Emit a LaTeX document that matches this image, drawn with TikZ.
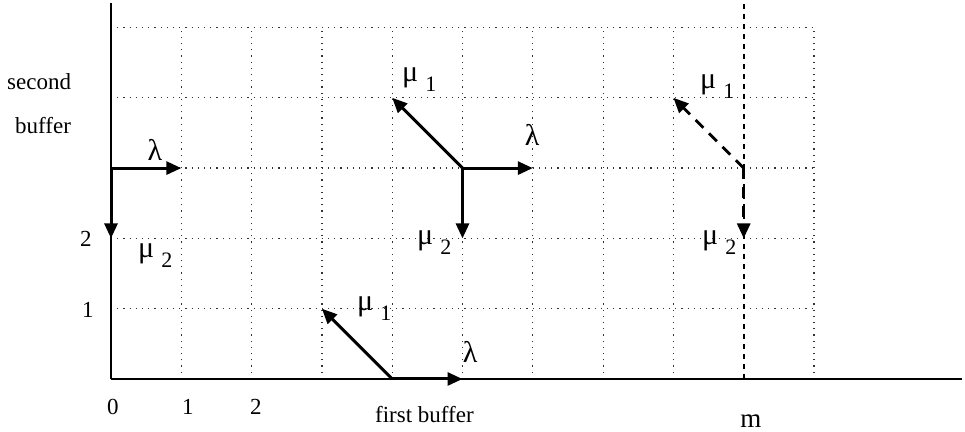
\documentclass[tikz,border=0pt]{standalone}
\usepackage{fontspec}
\setmainfont{Liberation Serif}
\usetikzlibrary{arrows.meta}

\tikzset{
  gridline/.style={black!80, line width=1.2pt, dash pattern=on 1.2pt off 5pt},
  axis/.style={black, line width=2pt},
  limitline/.style={black, line width=2.2pt, dash pattern=on 5pt off 5pt},
  move/.style={black, line width=3pt, -{Triangle[length=15pt,width=13pt]}},
  dmove/.style={move, dash pattern=on 11pt off 8pt},
  txt/.style={inner sep=0pt, font=\fontsize{23}{26}\selectfont},
  greek/.style={inner sep=0pt, font=\fontsize{30}{32}\selectfont},
  rate/.style={greek, anchor=base west},
}
\newcommand{\ratelabel}[1]{μ\hspace{7pt}\raisebox{-10pt}{\fontsize{22}{23}\selectfont #1}}

\begin{document}
\begin{tikzpicture}[x=70.3pt,y=70.3pt]
  \useasboundingbox (-1.579,-0.740) rectangle (12.148,5.391);

  % dotted state grid
  \foreach \i in {1,...,8,10}
    \draw[gridline] (\i,0) -- (\i,5);
  \foreach \j in {1,...,5}
    \draw[gridline] (0,\j) -- (10,\j);

  % capacity limit of the first buffer
  \draw[limitline] (9,0) -- (9,5.391);

  % axes
  \coordinate (O) at (0,0);
  \coordinate (xend) at (12.1,0);
  \coordinate (yend) at (0,5.35);
  \draw[axis] (O) -- (xend);
  \draw[axis] (O) -- (yend);

  % states and their neighbours
  \coordinate (a) at (0,3);  \coordinate (aR) at (1,3);  \coordinate (aD) at (0,2);
  \coordinate (b) at (4,0);  \coordinate (bR) at (5,0);  \coordinate (bL) at (3,1);
  \coordinate (c) at (5,3);  \coordinate (cR) at (6,3);  \coordinate (cD) at (5,2);  \coordinate (cL) at (4,4);
  \coordinate (d) at (9,3);  \coordinate (dD) at (9,2);  \coordinate (dL) at (8,4);

  % transitions
  \draw[move] (a) -- (aR);
  \draw[move] (a) -- (aD);
  \draw[move] (b) -- (bR);
  \draw[move] (b) -- (bL);
  \draw[move] (c) -- (cR);
  \draw[move] (c) -- (cD);
  \draw[move] (c) -- (cL);
  \draw[dmove] (d) -- (dL);
  \draw[dmove] (d) -- (dD);

  % rate labels
  \node[greek] (la) at (0.626,3.257) {λ};
  \node[greek] (lb) at (5.107,0.384) {λ};
  \node[greek] (lc) at (5.989,3.471) {λ};
  \node[rate] (ma) at (0.384,1.735) {\ratelabel{2}};
  \node[rate] (mb) at (3.499,0.981) {\ratelabel{1}};
  \node[rate] (mc1) at (4.139,4.225) {\ratelabel{1}};
  \node[rate] (mc2) at (4.353,1.906) {\ratelabel{2}};
  \node[rate] (md1) at (8.378,4.139) {\ratelabel{1}};
  \node[rate] (md2) at (8.407,1.906) {\ratelabel{2}};

  % axis labels
  \node[txt, anchor=base west] (sec) at (-1.479,4.111) {second};
  \node[txt, anchor=base west] (buf) at (-1.366,3.499) {buffer};
  \node[txt, anchor=base west] (fb) at (3.755,-0.612) {first buffer};
  \node[txt, anchor=base west, font=\fontsize{27}{28}\selectfont] (m) at (8.948,-0.683) {m};
  \node[txt, anchor=base west] (x0) at (-0.057,-0.512) {0};
  \node[txt, anchor=base west] (x1) at (1.01,-0.512) {1};
  \node[txt, anchor=base west] (x2) at (1.977,-0.512) {2};
  \node[txt, anchor=base west] (y2) at (-0.441,1.878) {2};
  \node[txt, anchor=base west] (y1) at (-0.413,0.868) {1};
\end{tikzpicture}
\end{document}
